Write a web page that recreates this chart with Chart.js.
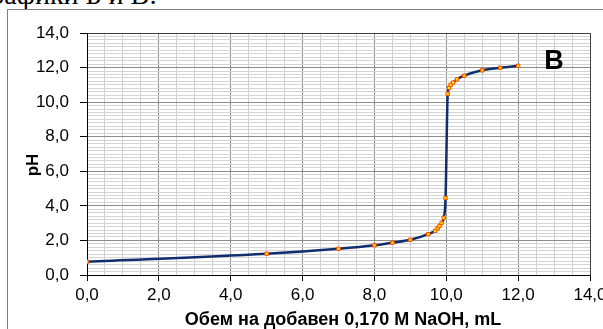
<!DOCTYPE html>
<html>
<head>
<meta charset="utf-8">
<script src="https://cdn.jsdelivr.net/npm/chart.js@4"></script>
<style>
  html, body { margin: 0; padding: 0; background: #fff; overflow: hidden; }
  body { width: 603px; height: 329px; position: relative; }
  #caption {
    position: absolute; right: 446px; top: -19px;
    font: 28px "Liberation Serif", "Times New Roman", serif;
    line-height: 28px; white-space: nowrap; color: #000;
  }
  #frame {
    position: absolute; left: 7px; top: 9px; width: 700px; height: 400px;
    border-top: 1px solid #808080; border-left: 1px solid #808080;
  }
  #wrap { position: absolute; left: 1px; top: 1px; width: 620px; height: 319px; }
</style>
</head>
<body>
<div id="caption">Графики Б и В:</div>
<div id="frame">
  <div id="wrap"><canvas id="titrChart"></canvas></div>
</div>
<script>
// обем NaOH (mL) и pH, отчетени от графиката
const volume = [0, 5, 7, 8, 8.5, 9, 9.5, 9.69, 9.76, 9.81, 9.87, 9.93, 9.98,
                10.04, 10.08, 10.12, 10.19, 10.3, 10.5, 11, 11.5, 12];
const phValues = [0.77, 1.23, 1.52, 1.72, 1.87, 2.04, 2.36, 2.56, 2.70, 2.84, 3.01, 3.31, 4.46,
                  10.49, 10.83, 11.0, 11.13, 11.32, 11.53, 11.84, 11.99, 12.1];

const xTitle = 'Обем на добавен 0,170 М NaOH, mL';
const yTitle = 'pH';
const panelLabel = 'В';

Chart.defaults.font.family = '"Liberation Sans", Arial, sans-serif';
Chart.defaults.color = '#000';

function fmt(v) {
    return v.toFixed(1).replace('.', ',');
}
function isMajor(v) {
    return Math.abs(Math.round(v / 2) * 2 - v) < 1e-6;
}

const points = volume.map((v, i) => ({ x: v, y: phValues[i] }));

const textPlugin = {
    id: 'texts',
    afterDraw(chart) {
        const ctx = chart.ctx;
        ctx.save();
        ctx.fillStyle = '#000';
        ctx.font = 'bold 18px "Liberation Sans", Arial, sans-serif';
        ctx.textAlign = 'center';
        ctx.textBaseline = 'alphabetic';
        ctx.fillText(xTitle, 334, 314);

        ctx.font = 'bold 17px "Liberation Sans", Arial, sans-serif';
        ctx.save();
        ctx.translate(24, 154);
        ctx.rotate(-Math.PI / 2);
        ctx.textBaseline = 'middle';
        ctx.fillText(yTitle, 0, 0);
        ctx.restore();

        ctx.font = 'bold 27px "Liberation Sans", Arial, sans-serif';
        ctx.textAlign = 'center';
        ctx.textBaseline = 'alphabetic';
        ctx.fillText(panelLabel, 545, 58);
        ctx.restore();
    }
};

const config = {
    type: 'line',
    data: {
        datasets: [{
            data: points,
            borderColor: '#112f6c',
            borderWidth: 2.5,
            cubicInterpolationMode: 'monotone',
            pointStyle: 'rect',
            pointRadius: 2.4,
            pointBackgroundColor: '#ffe600',
            pointBorderColor: '#ff4a00',
            pointBorderWidth: 1,
            fill: false
        }]
    },
    options: {
        responsive: true,
        maintainAspectRatio: false,
        animation: false,
        layout: { padding: { top: 22, right: 39, left: 0, bottom: 0 } },
        plugins: { legend: { display: false }, tooltip: { enabled: false } },
        scales: {
            x: {
                type: 'linear',
                min: 0,
                max: 14,
                afterFit(scale) { scale.height = 55; },
                border: { color: '#000', width: 1 },
                grid: {
                    color: c => {
                        if (c.tick.value >= 14) return '#404040';
                        return isMajor(c.tick.value) ? '#8c8c8c' : '#cfcfcf';
                    },
                    lineWidth: 1,
                    tickLength: 6,
                    tickColor: c => isMajor(c.tick.value) ? '#000' : 'rgba(0,0,0,0)'
                },
                ticks: {
                    stepSize: 0.5,
                    autoSkip: false,
                    maxRotation: 0,
                    padding: 4,
                    font: { size: 17 },
                    callback: v => isMajor(v) ? fmt(v) : ''
                }
            },
            y: {
                min: 0,
                max: 14,
                afterFit(scale) { scale.width = 78; },
                border: { color: '#000', width: 1 },
                grid: {
                    color: c => {
                        if (c.tick.value >= 13.999) return '#404040';
                        return isMajor(c.tick.value) ? '#8c8c8c' : '#d4d4d4';
                    },
                    lineWidth: 1,
                    tickLength: 7,
                    tickColor: c => isMajor(c.tick.value) ? '#000' : 'rgba(0,0,0,0)'
                },
                ticks: {
                    stepSize: 0.2,
                    autoSkip: false,
                    padding: 11,
                    font: { size: 17 },
                    callback: v => isMajor(v) ? fmt(v) : ''
                }
            }
        }
    },
    plugins: [textPlugin]
};

const ctx = document.getElementById('titrChart').getContext('2d');
window.myChart = new Chart(ctx, config);
</script>
</body>
</html>
